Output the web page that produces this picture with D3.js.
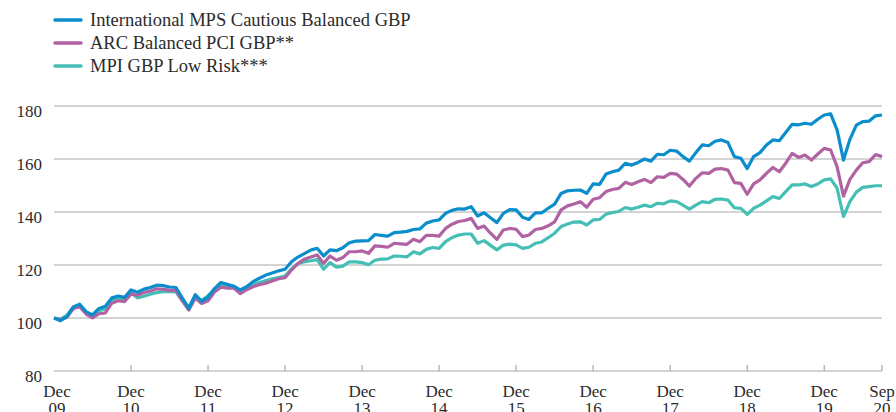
<!DOCTYPE html>
<html>
<head>
<meta charset="utf-8">
<script src="https://cdn.jsdelivr.net/npm/d3@7"></script>
<style>
  html, body { margin: 0; padding: 0; background: #fff; }
  svg { display: block; }
  text { font-family: "Liberation Serif", "DejaVu Serif", serif; fill: #2b2b2b; }
</style>
</head>
<body>
<svg id="chart"></svg>
<script>
// monthly index values, Dec 2009 (=100) .. Sep 2020
const seriesNames = ['International MPS Cautious Balanced GBP', 'ARC Balanced PCI GBP**', 'MPI GBP Low Risk***'];
const seriesColors = ['#0a8dcb', '#b062a3', '#45bfb5'];

const intlMps = [
  100.0, 99.0, 100.5, 104.2, 105.2, 102.4, 101.2, 103.6, 104.4, 107.6, 108.3, 107.8,
  110.6, 109.7, 110.9, 111.5, 112.4, 112.2, 111.7, 111.5, 107.5, 103.6, 108.8, 106.3,
  107.9, 111.1, 113.4, 112.7, 112.0, 110.6, 111.8, 113.7, 115.0, 116.2, 117.0, 117.8,
  118.4, 121.2, 123.0, 124.3, 125.6, 126.3, 123.4, 125.7, 125.4, 126.5, 128.4, 129.0,
  129.1, 129.2, 131.5, 131.2, 130.9, 132.2, 132.4, 132.7, 133.4, 133.6, 135.8, 136.6,
  137.0, 139.5, 140.6, 141.2, 141.1, 142.0, 138.5, 139.7, 137.8, 136.0, 139.5, 140.9,
  140.8, 138.0, 137.2, 139.7, 139.7, 141.4, 143.0, 147.0, 148.0, 148.2, 148.3, 147.0,
  150.6, 150.4, 154.3, 155.2, 155.8, 158.4, 157.7, 158.7, 160.0, 159.2, 161.8, 161.6,
  163.3, 163.0, 160.9, 159.2, 162.4, 165.3, 165.0, 166.7, 167.2, 166.2, 160.9, 160.3,
  156.4, 160.9, 162.4, 165.3, 167.2, 166.9, 170.0, 173.1, 172.9, 173.5, 173.1, 175.0,
  176.6, 177.0, 171.0, 159.6, 167.4, 172.8, 174.1, 174.3, 176.3, 176.6
];
const arcPci = [
  100.0, 99.3, 100.3, 103.5, 104.3, 101.5, 100.0, 101.6, 101.9, 105.6, 106.5, 106.2,
  109.0, 108.6, 109.6, 110.2, 111.0, 110.8, 110.5, 110.3, 106.5, 103.0, 107.5, 105.5,
  106.5, 109.8, 111.6, 111.3, 111.3, 109.2, 110.6, 111.8, 112.6, 113.1, 114.0, 114.8,
  115.2, 118.1, 120.5, 122.2, 123.0, 123.8, 120.6, 123.4, 121.8, 122.8, 125.0, 125.0,
  125.3, 124.4, 127.2, 127.0, 126.7, 128.2, 128.0, 127.8, 129.7, 128.8, 131.2, 131.2,
  130.9, 133.8, 135.4, 136.4, 136.8, 137.6, 133.8, 134.7, 132.0, 129.7, 133.2, 133.8,
  133.5, 130.7, 131.3, 133.4, 133.8, 134.8, 136.3, 140.8, 142.3, 143.0, 143.9, 141.8,
  144.8, 145.4, 147.7, 148.5, 148.9, 151.2, 150.4, 151.4, 152.3, 151.1, 153.3, 153.1,
  154.6, 154.3, 152.3, 149.8, 152.7, 154.8, 154.6, 156.2, 156.4, 155.8, 151.1, 150.8,
  146.7, 150.6, 152.1, 154.6, 156.8, 155.2, 158.4, 162.1, 160.6, 161.5, 159.6, 161.9,
  164.0, 163.4, 157.1, 146.0, 152.3, 155.8, 158.6, 159.0, 161.7, 160.9
];
const mpiLowRisk = [
  100.0, 99.6, 101.0, 104.0, 104.5, 102.0, 100.8, 102.8, 103.4, 106.6, 107.3, 107.0,
  109.6, 107.6, 108.2, 109.0, 109.6, 109.9, 110.0, 109.9, 106.5, 104.2, 108.3, 106.6,
  108.4, 110.6, 112.5, 112.2, 112.0, 110.3, 111.2, 112.5, 113.4, 114.1, 114.8, 115.3,
  115.8, 118.6, 120.5, 121.2, 121.6, 122.0, 118.4, 120.9, 119.2, 119.6, 121.2, 121.2,
  120.9, 120.1, 121.8, 122.2, 122.3, 123.4, 123.3, 123.1, 125.0, 124.2, 125.9, 126.6,
  126.3, 128.8, 130.3, 131.3, 131.7, 131.7, 128.2, 129.2, 127.4, 125.7, 127.5, 127.9,
  127.6, 126.3, 126.7, 128.2, 128.7, 130.3, 132.0, 134.5, 135.5, 136.2, 136.3, 135.1,
  137.0, 137.2, 139.2, 139.8, 140.2, 141.7, 141.1, 141.8, 142.6, 142.0, 143.3, 143.1,
  144.2, 143.9, 142.6, 141.1, 142.6, 143.9, 143.5, 144.8, 144.9, 144.5, 141.6, 141.4,
  139.1, 141.4, 142.6, 144.2, 145.8, 145.1, 147.7, 150.2, 150.2, 150.6, 149.6, 150.6,
  152.1, 152.5, 149.0, 138.3, 143.9, 147.5, 149.3, 149.6, 149.9, 149.9
];

// x axis ticks: month index -> label
const tickMonths = [0, 12, 24, 36, 48, 60, 72, 84, 96, 108, 120, 129];
const tickLabels = [['Dec','09'],['Dec','10'],['Dec','11'],['Dec','12'],['Dec','13'],['Dec','14'],
                    ['Dec','15'],['Dec','16'],['Dec','17'],['Dec','18'],['Dec','19'],['Sep','20']];
const yTicks = [80, 100, 120, 140, 160, 180];

var width = 896, height = 412;
var svg = d3.select('#chart').attr('width', width).attr('height', height);

var x = d3.scaleLinear().domain([0, intlMps.length - 1]).range([54, 882]);
var y = d3.scaleLinear().domain([80, 180]).range([371, 106]);

// gridlines + y labels
var grid = svg.append('g');
grid.selectAll('line')
    .data(yTicks)
    .enter().append('line')
    .attr('x1', x(0)).attr('x2', x(129))
    .attr('y1', function(d){ return y(d); })
    .attr('y2', function(d){ return y(d); })
    .attr('stroke', '#a9a9a9')
    .attr('stroke-width', 1.2);
grid.selectAll('text')
    .data(yTicks)
    .enter().append('text')
    .attr('x', 42)
    .attr('y', function(d){ return y(d) + 11; })
    .attr('text-anchor', 'end')
    .style('font-size', '17px')
    .text(function(d){ return d; });

// x ticks
var xt = svg.append('g');
xt.selectAll('line')
    .data(tickMonths.slice(1))
    .enter().append('line')
    .attr('x1', function(d){ return x(d); })
    .attr('x2', function(d){ return x(d); })
    .attr('y1', y(80)).attr('y2', y(80) - 6)
    .attr('stroke', '#a9a9a9')
    .attr('stroke-width', 1.2);
var lbl = xt.selectAll('text')
    .data(tickMonths)
    .enter().append('text')
    .attr('text-anchor', 'middle')
    .style('font-size', '17px')
    .attr('transform', function(d){ return 'translate(' + (x(d) + (d === 0 ? 3 : 0)) + ',0)'; });
lbl.append('tspan').attr('x', 0).attr('y', 397).text(function(d, i){ return tickLabels[i][0]; });
lbl.append('tspan').attr('x', 0).attr('y', 414).text(function(d, i){ return tickLabels[i][1]; });

// lines (drawn low-risk first so the main fund sits on top)
var all = [intlMps, arcPci, mpiLowRisk];
var line = d3.line()
    .x(function(d, i){ return x(i); })
    .y(function(d){ return y(d); });
[2, 1, 0].forEach(function(k) {
  svg.append('path')
     .datum(all[k])
     .attr('fill', 'none')
     .attr('stroke', seriesColors[k])
     .attr('stroke-width', 3.2)
     .attr('stroke-linejoin', 'round')
     .attr('d', line);
});

// legend
var leg = svg.append('g');
var legY = [20, 43, 66];
seriesNames.forEach(function(name, i) {
  leg.append('line')
     .attr('x1', 55).attr('x2', 81)
     .attr('y1', legY[i]).attr('y2', legY[i])
     .attr('stroke', seriesColors[i])
     .attr('stroke-width', 3.5)
     .attr('stroke-linecap', 'round');
  leg.append('text')
     .attr('x', 90).attr('y', legY[i] + 6)
     .style('font-size', '18.5px')
     .text(name);
});
</script>
</body>
</html>
